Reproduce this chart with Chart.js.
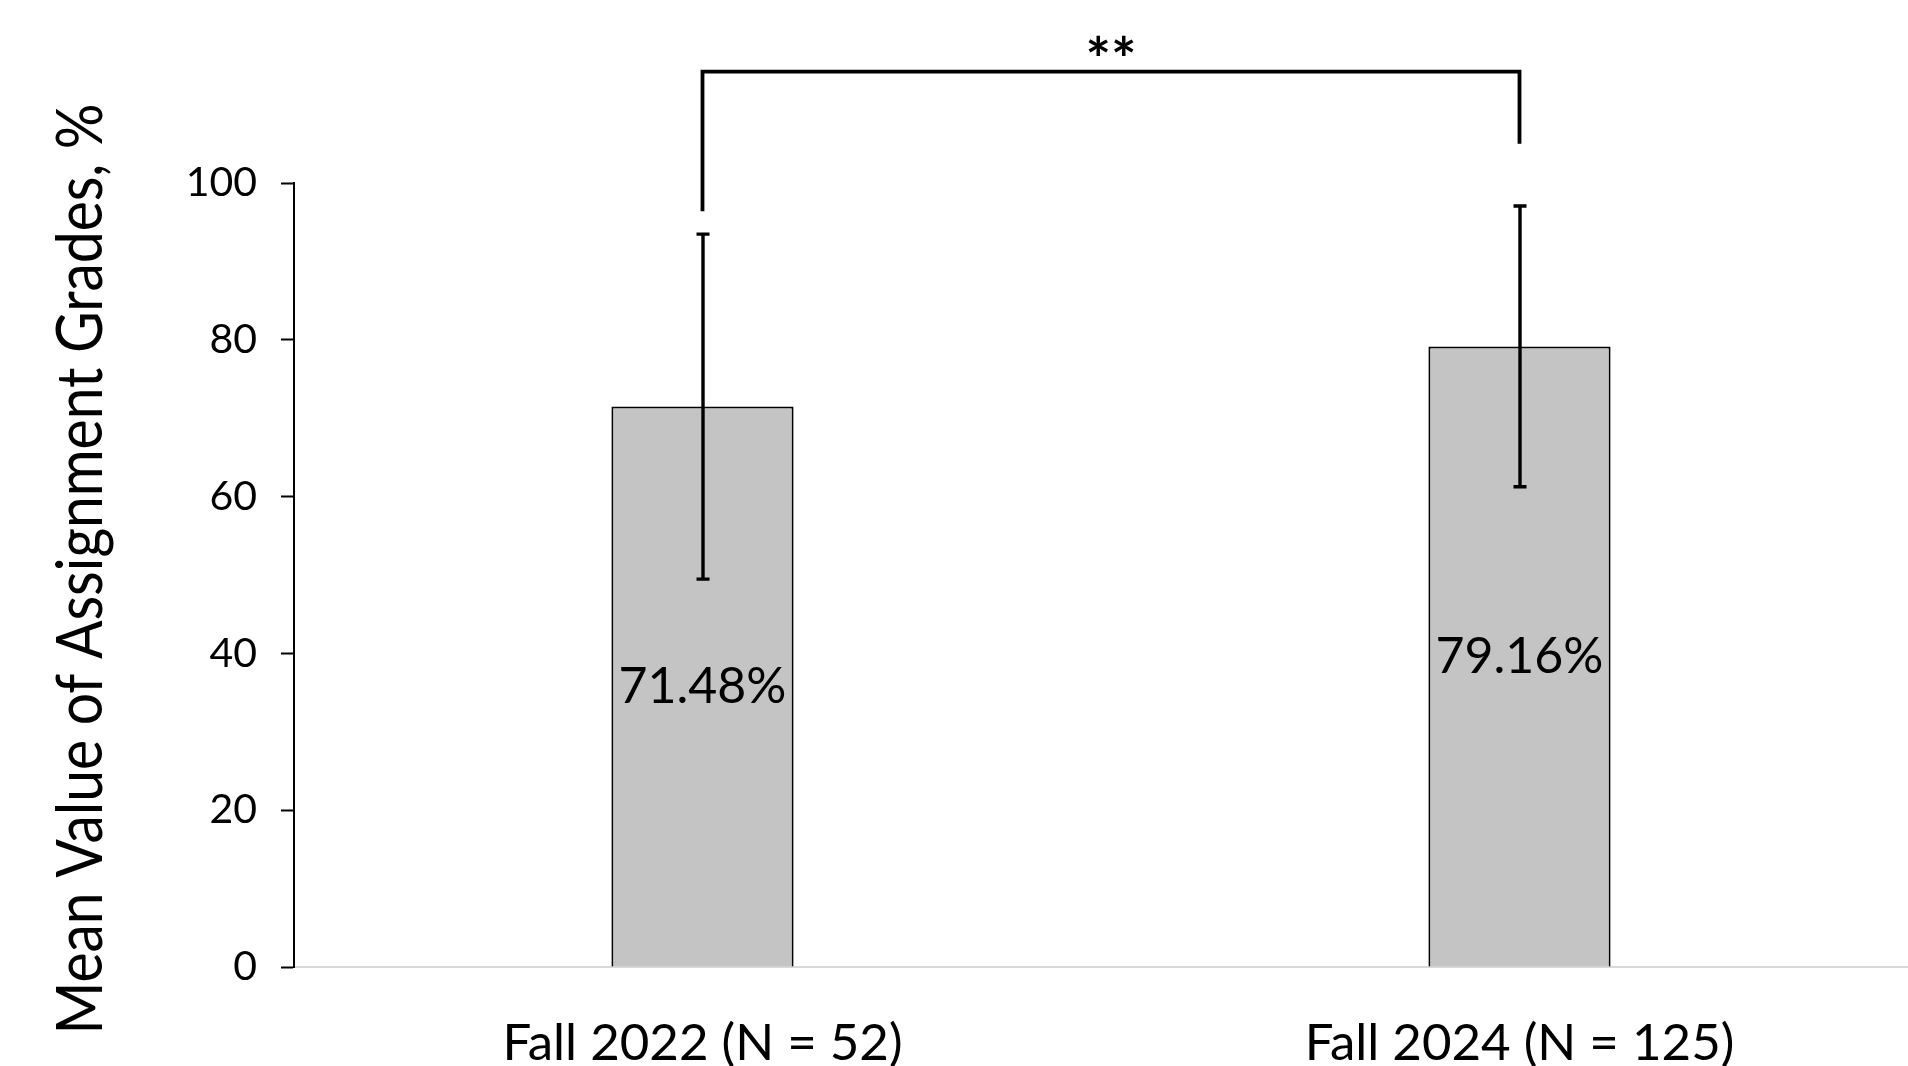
<!DOCTYPE html>
<html>
<head>
<meta charset="utf-8">
<title>Mean Value of Assignment Grades</title>
<script src="https://cdn.jsdelivr.net/npm/chart.js@4.4.1/dist/chart.umd.min.js"></script>
<style>
  html, body { margin: 0; padding: 0; background: #ffffff; overflow: hidden; }
  #wrap { width: 1928px; height: 1066px; }
</style>
</head>
<body>
<div id="wrap"><canvas id="chart" width="1928" height="1066"></canvas></div>
<script>
// Cohorts and their mean assignment grades (%), with error bar half-widths
const categories = ['Fall 2022 (N = 52)', 'Fall 2024 (N = 125)'];
const meanGrades = [71.48, 79.16];
const errorHalfWidths = [22.0, 17.9];

// Value axis ticks
const yTickValues = [0, 20, 40, 60, 80, 100];
const yAxisTitle = 'Mean Value of Assignment Grades, %';

// Significance bracket between the two cohorts (in axis units)
const bracketLevel = 114.2;
const bracketLeftDrop = 96.4;
const bracketRightDrop = 105.0;
const significanceMark = '**';

const FONT = 'Lato, "Open Sans", "Liberation Sans", sans-serif';

// Condensed, rotated value-axis title
const axisTitle = {
  id: 'axisTitle',
  afterDraw(chart) {
    const { ctx, chartArea } = chart;
    const length = 931;
    ctx.save();
    ctx.translate(102, (chartArea.top + chartArea.bottom) / 2 - 6);
    ctx.rotate(-Math.PI / 2);
    ctx.font = '63px ' + FONT;
    const w = ctx.measureText(yAxisTitle).width;
    ctx.scale(length / w, 1);
    ctx.fillStyle = '#000';
    ctx.textAlign = 'center';
    ctx.textBaseline = 'alphabetic';
    ctx.fillText(yAxisTitle, 0, 0);
    ctx.restore();
  }
};

// Error bars, value labels and the significance bracket
const annotate = {
  id: 'annotate',
  afterDatasetsDraw(chart) {
    const { ctx, scales: { x, y } } = chart;
    const meta = chart.getDatasetMeta(0);
    ctx.save();
    ctx.strokeStyle = '#000';
    ctx.fillStyle = '#000';

    // value labels centred in each bar
    ctx.font = '50px ' + FONT;
    ctx.textAlign = 'center';
    ctx.textBaseline = 'middle';
    meta.data.forEach((bar, i) => {
      const cx = bar.x;
      const cy = (y.getPixelForValue(meanGrades[i]) + y.getPixelForValue(0)) / 2;
      ctx.fillText(meanGrades[i].toFixed(2) + '%', cx, cy);
    });

    // error bars
    ctx.lineWidth = 3.4;
    meta.data.forEach((bar, i) => {
      const cx = Math.round(bar.x);
      const top = y.getPixelForValue(meanGrades[i] + errorHalfWidths[i]);
      const bot = y.getPixelForValue(meanGrades[i] - errorHalfWidths[i]);
      ctx.beginPath();
      ctx.moveTo(cx, top); ctx.lineTo(cx, bot);
      ctx.moveTo(cx - 6.5, top); ctx.lineTo(cx + 6.5, top);
      ctx.moveTo(cx - 6.5, bot); ctx.lineTo(cx + 6.5, bot);
      ctx.stroke();
    });

    // significance bracket
    const xl = x.getPixelForValue(0);
    const xr = x.getPixelForValue(1);
    const yb = y.getPixelForValue(bracketLevel);
    ctx.lineWidth = 3.8;
    ctx.lineJoin = 'miter';
    ctx.beginPath();
    ctx.moveTo(xl, y.getPixelForValue(bracketLeftDrop));
    ctx.lineTo(xl, yb);
    ctx.lineTo(xr, yb);
    ctx.lineTo(xr, y.getPixelForValue(bracketRightDrop));
    ctx.stroke();

    ctx.font = 'bold 60px ' + FONT;
    ctx.textBaseline = 'alphabetic';
    ctx.fillText(significanceMark, (xl + xr) / 2, yb + 9);
    ctx.restore();
  }
};

new Chart(document.getElementById('chart'), {
  type: 'bar',
  data: {
    labels: categories,
    datasets: [{
      data: meanGrades,
      backgroundColor: '#c4c4c4',
      borderColor: '#000000',
      borderWidth: 2,
      borderSkipped: 'bottom',
      barPercentage: 0.223,
      categoryPercentage: 1.0
    }]
  },
  options: {
    responsive: false,
    animation: false,
    events: [],
    layout: { padding: { top: 183, left: 0, right: 0, bottom: 0 } },
    plugins: { legend: { display: false }, tooltip: { enabled: false } },
    scales: {
      x: {
        offset: true,
        grid: { display: false },
        border: { color: '#d9d9d9', width: 2 },
        ticks: {
          color: '#000',
          font: { family: FONT, size: 51 },
          padding: 38,
          maxRotation: 0
        },
        afterFit(scale) { scale.height = 99; }
      },
      y: {
        min: 0,
        max: 100,
        afterBuildTicks(scale) { scale.ticks = yTickValues.map(v => ({ value: v })); },
        grid: {
          drawOnChartArea: false,
          drawTicks: true,
          tickLength: 13,
          tickColor: '#000',
          tickWidth: 2
        },
        border: { color: '#000', width: 2 },
        ticks: {
          color: '#000',
          font: { family: FONT, size: 41 },
          padding: 24
        },
        title: { display: false },
        afterFit(scale) { scale.width = 294; }
      }
    }
  },
  plugins: [annotate, axisTitle]
});
</script>
</body>
</html>
